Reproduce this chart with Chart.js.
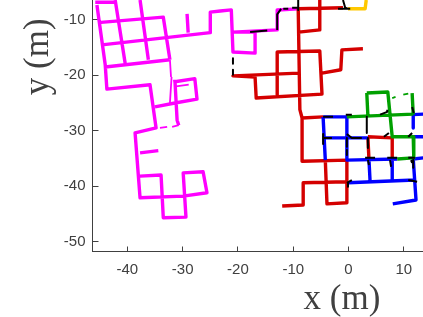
<!DOCTYPE html>
<html>
<head>
<meta charset="utf-8">
<script src="https://cdn.jsdelivr.net/npm/chart.js@4"></script>
<style>
html, body { margin: 0; padding: 0; width: 423px; height: 317px; overflow: hidden; background: #fff; }
#plot { position: absolute; left: 0; top: -138px; }
</style>
</head>
<body>
<canvas id="plot" width="600" height="455"></canvas>
<script>
// survey paths in metres, null breaks the line
var magentaX = [-45.8,-41.9,null,-45.5,-44.0,-43.7,-35.9,-35.0,-34.8,-38.6,-37.7,-29.9,-25.6,-26.3,-29.9,-29.4,-33.5,-33.9,-37.7,null,
    -37.7,-34.4,null,-42.2,-40.4,null,-37.7,-36.2,null,-45.3,-33.5,-32.3,null,-44.6,-25.0,-25.0,-23.2,-21.2,-20.9,-16.9,-16.9,-20.9,null,
    -20.9,-12.9,-12.9,-9.1,null,-29.2,-29.0,null,-44.0,-32.3,null,-35.0,-31.4,-27.4,-27.8,-31.7,null,-31.4,-31.0,-30.7];
var magentaY = [-6.8,-6.8,null,-7.3,-18.1,-22.5,-21.7,-28.1,-29.5,-30.4,-42.1,-41.8,-41.2,-37.4,-37.6,-45.6,-45.7,-38.0,-38.2,null,
    -34.0,-33.6,null,-6.4,-17.8,null,-6.4,-17.2,null,-10.5,-9.5,-17.2,null,-14.5,-12.3,-8.6,-8.4,-8.2,-15.8,-16.0,-12.2,-12.2,null,
    -12.2,-11.8,-8.2,-8.0,null,-8.9,-12.3,null,-18.5,-17.2,null,-25.7,-25.0,-24.3,-20.6,-21.2,null,-20.8,-28.1,-29.0];
var magentaThinX = [-32.3,-32.1,null,-32.0,-32.3,null,-31.2,-28.9,null,-34.1,-32.8,null,-31.9,-30.7];
var magentaThinY = [-17.2,-20.3,null,-20.3,-25.0,null,-22.0,-21.7,null,-29.5,-29.3,null,-29.3,-29.0];

var redX = [-9.1,-8.8,-8.4,-8.4,-8.4,-0.3,-0.3,-0.3,-3.9,-4.2,null,-9.1,-1.0,null,-5.2,-5.2,-9.0,null,
    -12.9,-5.2,-4.8,-16.7,-16.9,-20.9,-9.0,null,-12.9,-12.9,null,-4.8,-1.4,-1.2,2.6,null,
    -8.4,-4.6,null,-12.0,-8.2,-8.2,-0.3,null,-3.9,-0.3,null,3.5,7.9,7.9,null,3.5,3.7];
var redY = [-8.0,-26.2,-27.7,-35.3,-35.5,-35.3,-39.2,-43.0,-43.2,-35.3,null,-8.0,-7.8,null,-6.4,-11.8,-12.2,null,
    -15.8,-15.6,-23.4,-24.1,-20.3,-20.1,-19.6,null,-15.8,-23.5,null,-19.6,-19.0,-15.4,-15.2,null,
    -27.7,-27.5,null,-43.6,-43.4,-39.4,-39.2,null,-43.2,-43.0,null,-31.1,-31.3,-35.1,null,-31.1,-35.3];

var blueX = [-4.6,-0.3,null,-4.6,-4.2,null,-0.3,-0.3,null,-4.2,3.5,null,-0.3,8.8,null,3.7,3.9,null,7.9,7.9,null,
    -0.1,12.0,null,11.7,12.2,8.0,null,11.7,13.5,null,11.7,13.5,null,11.7,13.5,null,11.7,11.7];
var blueY = [-27.5,-27.5,null,-27.5,-35.3,null,-27.5,-35.3,null,-31.3,-31.3,null,-35.3,-35.1,null,-35.3,-39.2,null,-35.1,-38.9,null,
    -39.4,-38.9,null,-35.1,-42.5,-43.2,null,-27.1,-27.0,null,-31.1,-31.1,null,-35.1,-34.9,null,-27.1,-29.5];

var greenX = [-0.3,11.7,null,3.3,3.5,null,3.3,7.1,7.9,11.7,null,11.5,11.7,null,11.7,11.8,null,8.8,11.7];
var greenY = [-27.5,-27.0,null,-23.2,-27.3,null,-23.2,-23.0,-31.1,-31.1,null,-23.2,-27.1,null,-31.1,-34.9,null,-35.1,-34.9];
var greenThinX = [7.9,8.5,null,9.9,10.8];
var greenThinY = [-24.1,-23.9,null,-23.5,-23.3];

var yellowX = [-0.1,3.0,3.2];
var yellowY = [-8.0,-8.0,-6.4];

var blackX = [-20.9,-20.9,null,-20.9,-20.9,null,-17.8,-14.7,null,-12.9,-12.9,-12.2,null,-11.8,-10.9,null,-10.2,-9.1,null,-9.1,-9.1,null,
    -1.9,0.3,null,-1.0,-0.6,0.0,null,-4.6,-2.8,null,-0.5,0.6,null,3.3,3.3,null,3.5,3.5,null,-4.6,-4.6,null,-4.6,-3.0,null,
    -0.3,0.6,2.4,null,-0.3,-0.3,null,-0.3,-0.3,null,5.7,7.0,7.0,null,11.5,11.8,null,6.4,7.3,null,10.8,11.5,null,
    3.0,4.8,null,3.5,3.7,null,7.0,8.8,null,7.5,7.7,null,10.8,12.0,null,11.3,11.5,null,-0.3,0.6,null,10.8,12.4,null,-0.1,-0.1,null,11.7,11.7];
var blackY = [-16.9,-17.9,null,-19.0,-19.9,null,-12.2,-11.9,null,-11.8,-9.0,-8.0,null,-8.0,-8.0,null,-7.8,-7.8,null,-6.4,-8.2,null,
    -8.0,-8.0,null,-6.4,-7.8,-8.0,null,-27.5,-27.5,null,-27.1,-27.1,null,-27.5,-30.4,null,-31.3,-33.1,null,-30.6,-32.4,null,-31.3,-31.3,null,
    -30.6,-31.3,-31.3,null,-31.3,-32.9,null,-33.5,-34.4,null,-27.1,-26.6,-26.2,null,-25.7,-26.8,null,-31.1,-30.4,null,-31.1,-30.4,null,
    -34.9,-34.9,null,-35.3,-36.2,null,-34.9,-34.9,null,-35.3,-36.5,null,-34.9,-34.9,null,-35.3,-35.8,null,-39.4,-38.9,null,-38.9,-39.2,null,-39.4,-40.1,null,-35.3,-36.7];

var xTicks = { min: -46.3, max: 43.9, step: 10 };
var yTicks = { min: -51.8, max: 18.5, step: 10 };

function points(xs, ys) {
    return xs.map(function (x, i) { return { x: x, y: ys[i] }; });
}
function path(xs, ys, color, width) {
    return {
        data: points(xs, ys),
        showLine: true,
        borderColor: color,
        borderWidth: width,
        pointRadius: 0,
        tension: 0,
        spanGaps: false,
        borderJoinStyle: 'round'
    };
}

var axisColor = '#404040';
var tickFont = { family: '"Liberation Sans", Arial, sans-serif', size: 15 };
var titleFont = { family: '"Liberation Serif", "Times New Roman", serif', size: 35, lineHeight: 1 };

var plot = new Chart(document.getElementById('plot'), {
    type: 'scatter',
    data: {
        // first dataset is painted on top
        datasets: [
            path(blackX, blackY, '#000000', 2),
            path(yellowX, yellowY, '#ffc800', 3.4),
            path(greenThinX, greenThinY, '#00a000', 1.8),
            path(greenX, greenY, '#00a000', 3.4),
            path(blueX, blueY, '#0000ff', 3.4),
            path(redX, redY, '#d40000', 3.4),
            path(magentaThinX, magentaThinY, '#ff00ff', 1.8),
            path(magentaX, magentaY, '#ff00ff', 3.4)
        ]
    },
    options: {
        responsive: false,
        animation: false,
        layout: { padding: { top: 0, left: 0, right: 8.7, bottom: 0 } },
        plugins: { legend: { display: false }, tooltip: { enabled: false } },
        scales: {
            x: {
                type: 'linear',
                min: xTicks.min,
                max: xTicks.max,
                afterFit: function (scale) {
                    scale.height = 65.5;
                    scale.paddingLeft = 0;
                    scale.paddingRight = 0;
                },
                grid: { drawOnChartArea: false, tickLength: -5, color: axisColor },
                border: { color: axisColor },
                ticks: { stepSize: xTicks.step, includeBounds: false, maxRotation: 0, color: axisColor, font: tickFont, padding: 14 },
                title: { display: true, text: 'x (m)', color: axisColor, font: titleFont, padding: { top: 0, bottom: 0 } }
            },
            y: {
                type: 'linear',
                min: yTicks.min,
                max: yTicks.max,
                afterFit: function (scale) {
                    scale.width = 92.5;
                    scale.paddingTop = 0;
                    scale.paddingBottom = 0;
                },
                grid: { drawOnChartArea: false, tickLength: -6, color: axisColor },
                border: { color: axisColor },
                ticks: { stepSize: yTicks.step, includeBounds: false, color: axisColor, font: tickFont, padding: 13 },
                title: { display: true, text: 'y (m)', color: axisColor, font: titleFont, padding: { top: 21, bottom: 0 } }
            }
        }
    }
});
</script>
</body>
</html>
